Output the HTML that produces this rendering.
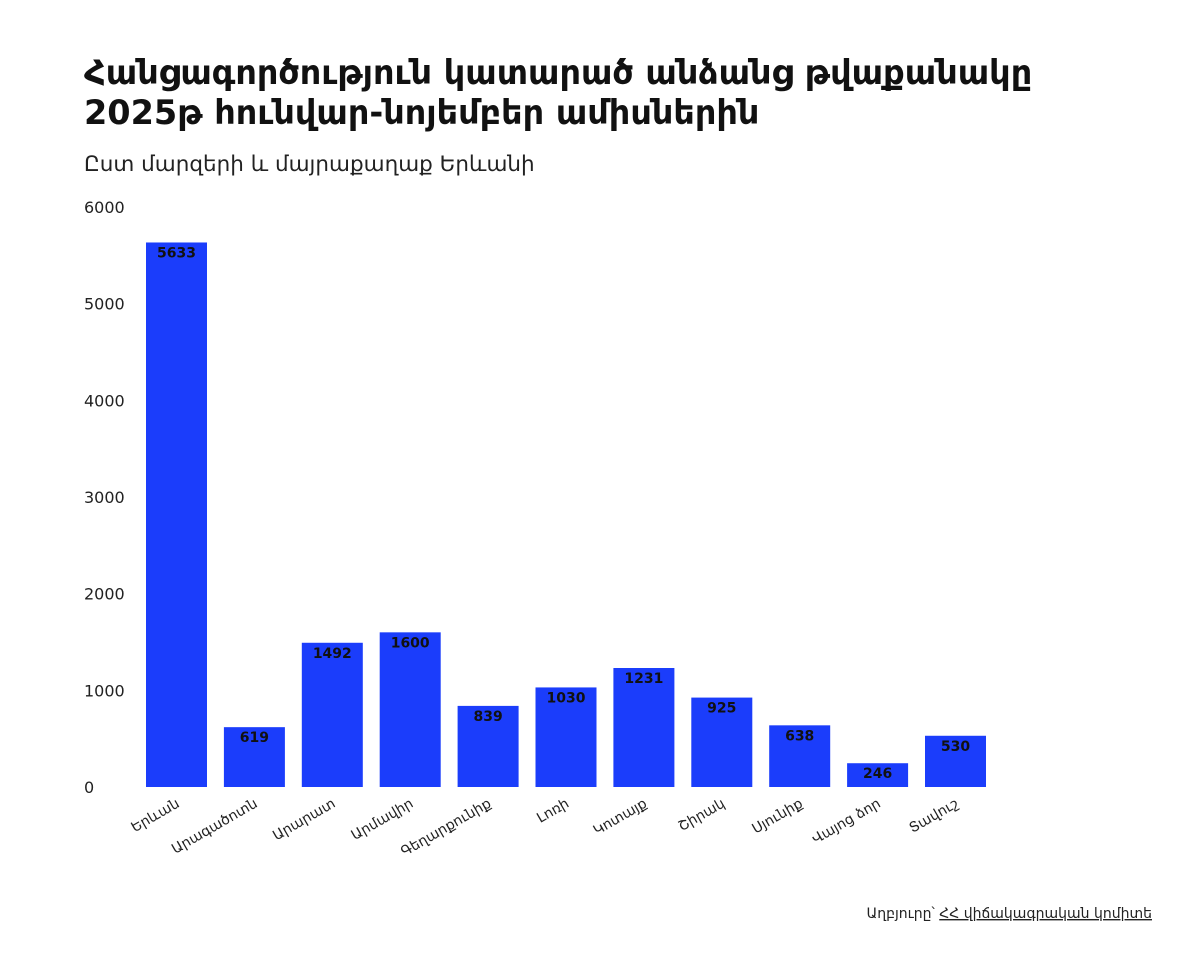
<!DOCTYPE html>
<html><head><meta charset="utf-8">
<style>
body{margin:0;background:#fff;width:1200px;height:973px;overflow:hidden;font-family:"DejaVu Sans","Liberation Sans",sans-serif;}
</style></head><body>
<svg width="1200" height="973" id="c">
<text x="84" y="84" font-size="33.5" font-weight="bold" fill="#111">Հանցագործություն կատարած անձանց թվաքանակը</text>
<text x="84" y="124" font-size="33.5" font-weight="bold" fill="#111">2025թ հունվար-նոյեմբեր ամիսներին</text>
<text x="84" y="171" font-size="21.5" fill="#222">Ըստ մարզերի և մայրաքաղաք Երևանի</text>
<text x="1152" y="918" font-size="14" text-anchor="end" fill="#222">Աղբյուրը՝ <tspan text-decoration="underline">ՀՀ վիճակագրական կոմիտե</tspan></text>
<g id="plot"></g>
</svg>
<script>
const categories=["Երևան","Արագածոտն","Արարատ","Արմավիր","Գեղարքունիք","Լոռի","Կոտայք","Շիրակ","Սյունիք","Վայոց ձոր","Տավուշ"];
const values=[5633,619,1492,1600,839,1030,1231,925,638,246,530];
const ticks=[0,1000,2000,3000,4000,5000,6000];
const NS="http://www.w3.org/2000/svg";
const g=document.getElementById("plot");
const y0=787,yTop=207,yMax=6000;
function y(v){return y0-(v/yMax)*(y0-yTop);}
const x0=146,step=77.9,bw=61;
function x(i){return x0+i*step;}
function mk(t,a){const e=document.createElementNS(NS,t);for(const k in a)e.setAttribute(k,a[k]);g.appendChild(e);return e;}
ticks.forEach(t=>{
 const e=mk("text",{x:84,y:y(t)+6,"font-size":16,fill:"#222"});
 
 
 e.textContent=t;
});
values.forEach((v,i)=>{
 const r=mk("rect",{x:x(i),y:y(v),width:bw,height:y0-y(v),fill:"#1b3dfb"});
 
 
 const t=mk("text",{x:x(i)+bw/2,y:y(v)+15,"font-size":14,"font-weight":"bold","text-anchor":"middle",fill:"#111"});
 
 
 t.textContent=v;
 const cx=x(i)+bw/2+4,cy=806;
 const l=mk("text",{x:cx,y:cy,"font-size":14,"text-anchor":"end",fill:"#222",transform:`rotate(-30 ${cx} ${cy})`});
 
 
 l.textContent=categories[i];
});
</script>
</body></html>
